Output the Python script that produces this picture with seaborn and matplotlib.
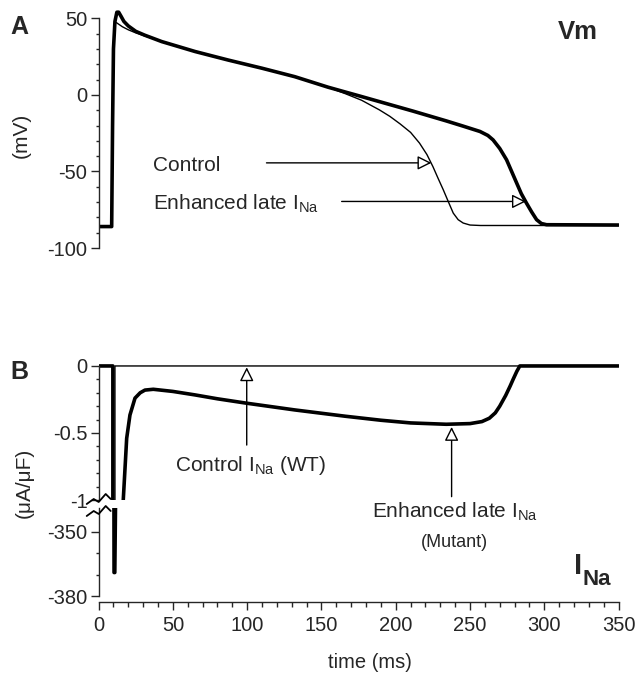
import numpy as np
import pandas as pd
import seaborn as sns
import matplotlib.pyplot as plt
from matplotlib.lines import Line2D
from matplotlib.ticker import MultipleLocator

# ---- data ----
# panel A: membrane potential (mV)
t_vm_ctrl = [0, 8.8, 9.4, 10.0, 10.8, 11.5, 13, 16, 20, 25, 31, 42.5, 65, 87, 110, 132, 154.5,
             166, 177, 189, 196, 203, 210, 216, 221, 225, 228.5, 232, 235.5, 238.7, 242, 245.4,
             250, 257, 350]
vm_ctrl = [-86, -86, -20, 30, 46.5, 47.5, 46.5, 44.5, 42.5, 40.5, 38.5, 34.8, 28.3, 22.8, 17.4, 11.9, 5.0,
           0.8, -3.5, -9.8, -14.0, -19.0, -24.5, -31.5, -39, -46.8, -54.5, -62, -70, -77.2, -81.5, -83.7,
           -85, -85.3, -85.3]

t_vm_mut = [0, 8.8, 9.4, 10.0, 11.0, 12.3, 13.5, 15, 17, 20, 25, 31, 42.5, 65, 87, 110, 132, 154.5,
            177, 189, 211.6, 234, 245, 256.7, 262, 265.5, 270, 274.6, 278, 281.4, 284.5, 288, 291.5,
            294.8, 298, 301.5, 350]
vm_mut = [-86, -86, -20, 30, 48, 54, 54, 51.5, 48, 45, 41.5, 39, 34.8, 28.3, 22.8, 17.4, 11.9, 5.0,
          -1.1, -4.4, -10.6, -17.0, -20.3, -23.9, -26.5, -29.4, -35, -42.4, -50, -57.6, -64.5, -70.7, -76.5,
          -81.5, -84, -84.8, -85]

# panel B: sodium current (uA/uF)
t_ina_ctrl = [0, 9.6, 10.4, 10.9, 11.0, 350]
ina_ctrl = [0, 0, -369, -369, 0, 0]

t_ina_mut = [0, 9.6, 10.4, 10.9, 16.6, 18.9, 21.1, 24.5, 28, 31.2, 36.8, 50, 64.9, 80, 99.7, 132, 166,
             190, 210, 234, 250, 258, 263, 267, 270, 274, 277, 279, 281.5, 283.5, 350]
ina_mut = [0, 0, -369, -369, -1.0, -0.54, -0.366, -0.24, -0.2, -0.18, -0.174, -0.19, -0.216, -0.245,
           -0.278, -0.328, -0.375, -0.405, -0.425, -0.435, -0.43, -0.415, -0.39, -0.35, -0.30, -0.22,
           -0.15, -0.10, -0.04, 0, 0]

sns.set_style("ticks")
plt.rcParams['font.family'] = ['Liberation Sans', 'DejaVu Sans']
plt.rcParams['mathtext.fontset'] = 'custom'
plt.rcParams['mathtext.rm'] = 'Liberation Sans'
plt.rcParams['mathtext.it'] = 'Liberation Sans:italic'
plt.rcParams['mathtext.bf'] = 'Liberation Sans:bold'
plt.rcParams['axes.unicode_minus'] = False

W, H = 639, 679
fig = plt.figure(figsize=(W / 100, H / 100), dpi=100)


def box(x0, x1, ytop, ybot):
    return [x0 / W, 1 - ybot / H, (x1 - x0) / W, (ybot - ytop) / H]


axA = fig.add_axes(box(98.6, 618.6, 7.6, 248))
axB1 = fig.add_axes(box(98.6, 618.6, 360.6, 500))
axB2 = fig.add_axes(box(98.6, 618.6, 508, 602))

THICK, THIN = 2.6, 1.0
FS = 15
TICKFS = 14.5

sns.lineplot(x=t_vm_ctrl, y=vm_ctrl, ax=axA, color='black', lw=THIN, estimator=None, sort=False)
sns.lineplot(x=t_vm_mut, y=vm_mut, ax=axA, color='black', lw=THICK, estimator=None, sort=False)
for ax in (axB1, axB2):
    sns.lineplot(x=t_ina_ctrl, y=ina_ctrl, ax=ax, color='black', lw=THIN, estimator=None, sort=False)
    sns.lineplot(x=t_ina_mut, y=ina_mut, ax=ax, color='black', lw=THICK, estimator=None, sort=False)

for ax in (axA, axB1, axB2):
    ax.patch.set_visible(False)
    ax.set_xlim(0, 350)
    ax.set_xlabel('')
    ax.set_ylabel('')
    for s in ('top', 'right'):
        ax.spines[s].set_visible(False)
    ax.spines['left'].set_linewidth(1)
    ax.tick_params(axis='y', which='major', length=6, width=1, pad=2, labelsize=TICKFS, direction='out')
    ax.tick_params(axis='y', which='minor', length=2.5, width=1, direction='out')

for ax in (axA, axB1):
    ax.spines['bottom'].set_visible(False)
    ax.tick_params(axis='x', which='both', bottom=False, labelbottom=False)

# panel A axis
axA.set_ylim(-100, 57)
axA.spines['left'].set_bounds(-100, 50)
axA.set_yticks([-100, -50, 0, 50])
axA.yaxis.set_minor_locator(MultipleLocator(10))

# panel B upper
axB1.set_ylim(-1.0, 0.04)
axB1.spines['left'].set_bounds(-1, 0)
axB1.set_yticks([-1, -0.5, 0])
axB1.set_yticklabels(['-1', '-0.5', '0'])
axB1.yaxis.set_minor_locator(MultipleLocator(0.1))

# panel B lower
axB2.set_ylim(-382.8, -338.8)
axB2.spines['left'].set_bounds(-380, -338.8)
axB2.set_yticks([-380, -350])
axB2.set_yticklabels(['-380', '-350'])
axB2.set_yticks([-370, -360], minor=True)
axB2.spines['bottom'].set_bounds(0, 350)
axB2.spines['bottom'].set_linewidth(1)
axB2.set_xticks(np.arange(0, 351, 50))
axB2.xaxis.set_minor_locator(MultipleLocator(10))
axB2.tick_params(axis='x', which='major', length=6, width=1, labelsize=TICKFS, pad=4)
axB2.tick_params(axis='x', which='minor', length=3.5, width=1)

# arrows
head = '-|>,head_length=0.7,head_width=0.35'
aprops = dict(arrowstyle=head, fc='white', ec='black', lw=1, shrinkA=0, shrinkB=0, mutation_scale=12)

axA.annotate('', xy=(224, -44.4), xytext=(113, -44.4), arrowprops=aprops)
axA.annotate('', xy=(287.6, -69.6), xytext=(163.6, -69.6), arrowprops=aprops)
axA.text(36.6, -49.4, 'Control', fontsize=FS, va='baseline', ha='left')
axA.text(36.6, -75.0, r'Enhanced late I$_{\mathrm{Na}}$', fontsize=FS, va='baseline', ha='left')

axB1.annotate('', xy=(99.7, -0.01), xytext=(99.7, -0.59), arrowprops=aprops, annotation_clip=False)
axB1.annotate('', xy=(237.6, -0.455), xytext=(237.6, -0.975), arrowprops=aprops, annotation_clip=False)
axB1.text(51.4, -0.784, r'Control I$_{\mathrm{Na}}$ (WT)', fontsize=FS, va='baseline', ha='left')
axB1.text(239.8, -1.129, r'Enhanced late I$_{\mathrm{Na}}$', fontsize=FS, va='baseline', ha='center',
          clip_on=False, zorder=10)
axB1.text(239.8, -1.348, '(Mutant)', fontsize=13, va='baseline', ha='center', clip_on=False, zorder=10)

# panel labels and titles
fig.text(19 / W, 1 - 27 / H, 'A', fontsize=18, fontweight='bold', ha='center', va='center')
fig.text(19 / W, 1 - 372 / H, 'B', fontsize=18, fontweight='bold', ha='center', va='center')
fig.text(578 / W, 1 - 32 / H, 'Vm', fontsize=18.5, fontweight='bold', ha='center', va='center')
fig.text(574 / W, 1 - 574 / H, 'I', fontsize=21, fontweight='bold', ha='left', va='baseline')
fig.text(582 / W, 1 - 585 / H, 'Na', fontsize=16, fontweight='bold', ha='left', va='baseline')

fig.text(21 / W, 1 - 135 / H, '(mV)', fontsize=FS, rotation=90, ha='center', va='center')
fig.text(24 / W, 1 - 483 / H, '(\u03bcA/\u03bcF)', fontsize=FS, rotation=90, ha='center', va='center')
fig.text(370 / W, 1 - 662 / H, 'time (ms)', fontsize=14.5, ha='center', va='center')

# axis break marks
dx = np.array([-11, -4, 1, 8, 13])
dy = np.array([4, -1, 2, -6, -1])
for yc in (500, 512):
    fig.add_artist(Line2D((97.7 + dx) / W, 1 - (yc + dy) / H, color='black', lw=1.3))

fig.savefig('out.png', dpi=100)
